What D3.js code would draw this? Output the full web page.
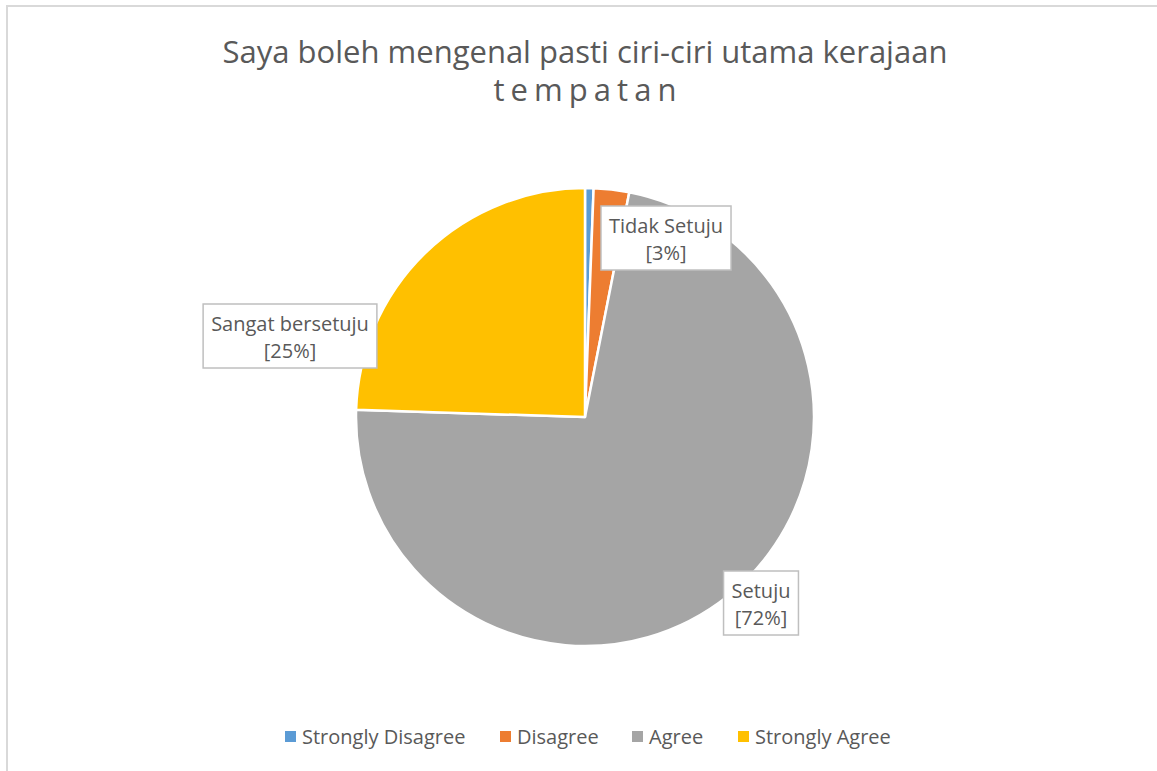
<!DOCTYPE html>
<html>
<head>
<meta charset="utf-8">
<script src="https://cdn.jsdelivr.net/npm/d3@7"></script>
<style>
  body { margin: 0; background: #fff; }
  svg { display: block; font-family: "Open Sans", "Noto Sans", sans-serif; }
</style>
</head>
<body>
<div class="pieChart"></div>
<script>
//Size
var w = 1157;
var h = 771;

//Data
var categories = ["Strongly Disagree", "Disagree", "Agree", "Strongly Agree"];
var values = [0.6, 2.5, 72.4, 24.5];
var labelNames = [null, "Tidak Setuju", "Setuju", "Sangat bersetuju"];
var colors = ["#5b9bd5", "#ed7d31", "#a5a5a5", "#ffc000"];
var titleLines = ["Saya boleh mengenal pasti ciri-ciri utama kerajaan", "t e m p a t a n"];

var dataset = categories.map((c, i) => ({ name: c, value: values[i], label: labelNames[i], color: colors[i] }));

var cx = 585, cy = 417, r = 229;

var svg = d3.select(".pieChart")
    .append("svg")
    .attr("width", w)
    .attr("height", h);

//Frame
svg.append("rect")
    .attr("x", 7).attr("y", 6)
    .attr("width", w + 10).attr("height", h + 10)
    .attr("fill", "none")
    .attr("stroke", "#d9d9d9")
    .attr("stroke-width", 2);

//Title
svg.selectAll(".title")
    .data(titleLines)
    .enter()
    .append("text")
    .attr("class", "title")
    .attr("x", 585)
    .attr("y", (d, i) => 63 + i * 38)
    .attr("text-anchor", "middle")
    .attr("fill", "#595959")
    .style("font-size", "31px")
    .style("word-spacing", (d, i) => i ? "-2px" : null)
    .text(d => d);

//Pie
var pie = d3.pie().sort(null).value(d => d.value);
var arc = d3.arc().innerRadius(0).outerRadius(r);
var arcs = pie(dataset);

var g = svg.append("g").attr("transform", "translate(" + cx + "," + cy + ")");
g.selectAll("path")
    .data(arcs)
    .enter()
    .append("path")
    .attr("d", arc)
    .attr("fill", d => d.data.color)
    .attr("stroke", "#fff")
    .attr("stroke-width", 2.5)
    .attr("stroke-linejoin", "round");

//Data labels (box centres)
var labelPos = [null, [666, 238], [761, 603], [290, 336]];
arcs.forEach((a, i) => {
    if (!a.data.label) return;
    var p = labelPos[i];
    var lg = svg.append("g").attr("transform", "translate(" + p[0] + "," + p[1] + ")");
    var lines = [a.data.label, "[" + Math.round(a.data.value) + "%]"];
    var t = lg.selectAll("text")
        .data(lines)
        .enter()
        .append("text")
        .attr("x", 0)
        .attr("y", (d, k) => -5 + k * 27)
        .attr("text-anchor", "middle")
        .attr("fill", "#595959")
        .style("font-size", "20px")
        .text(d => d);
    var bw = d3.max(t.nodes(), n => n.getComputedTextLength()) + 16;
    lg.insert("rect", "text")
        .attr("x", -bw / 2)
        .attr("y", -32)
        .attr("width", bw)
        .attr("height", 64)
        .attr("fill", "#fff")
        .attr("stroke", "#bfbfbf")
        .attr("stroke-width", 1.5);
});

//Legend
var legendX = [285, 500, 632, 738];
var legend = svg.selectAll(".legend")
    .data(dataset)
    .enter()
    .append("g")
    .attr("class", "legend")
    .attr("transform", (d, i) => "translate(" + legendX[i] + ",737)");
legend.append("rect")
    .attr("x", 0).attr("y", -6)
    .attr("width", 11).attr("height", 11)
    .attr("fill", d => d.color);
legend.append("text")
    .attr("x", 17).attr("y", 7)
    .attr("fill", "#595959")
    .style("font-size", "20px")
    .text(d => d.name);
</script>
</body>
</html>
